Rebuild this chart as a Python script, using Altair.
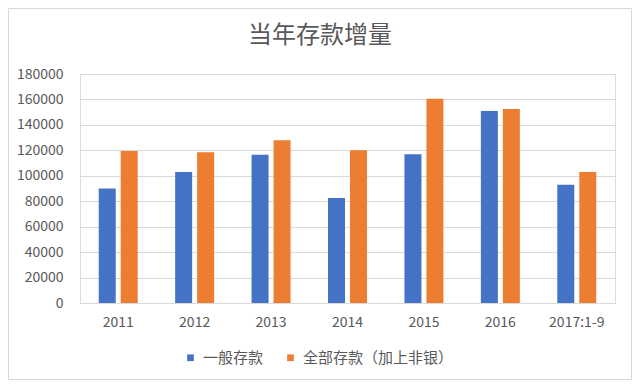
import altair as alt
import pandas as pd

categories = ["2011", "2012", "2013", "2014", "2015", "2016", "2017:1-9"]
series_names = ["一般存款", "全部存款（加上非银）"]
general_deposits = [90000, 103000, 116500, 82500, 117000, 151000, 93000]
all_deposits = [119500, 118500, 128000, 120000, 160500, 152500, 103000]
y_ticks = [0, 20000, 40000, 60000, 80000, 100000, 120000, 140000, 160000, 180000]
colors = ["#4472C4", "#ED7D31"]
chart_title = "当年存款增量"

rows = []
for i, c in enumerate(categories):
    rows.append({"year": c, "series": series_names[0], "value": general_deposits[i]})
    rows.append({"year": c, "series": series_names[1], "value": all_deposits[i]})
df = pd.DataFrame(rows)

FONT = "Noto Sans CJK SC"
GRAY = "#595959"

W, H = 535, 229
PAD_L, PAD_T, PAD_R, PAD_B = 72, 66, 17, 77

bars = alt.Chart(df).mark_bar().encode(
    x=alt.X("year:N", sort=categories, title=None,
            scale=alt.Scale(paddingInner=0.49, paddingOuter=0.245),
            axis=alt.Axis(labelAngle=0, labelFontSize=14, labelColor=GRAY,
                          labelFont=FONT, ticks=False, labelPadding=12,
                          domainColor="#D9D9D9", grid=False)),
    xOffset=alt.XOffset("series:N", sort=series_names,
                        scale=alt.Scale(paddingInner=0.227, paddingOuter=0)),
    y=alt.Y("value:Q", title=None,
            scale=alt.Scale(domain=[0, 180000], nice=False),
            axis=alt.Axis(values=y_ticks, labelFontSize=14, labelColor=GRAY,
                          labelFont=FONT, ticks=False, domain=False,
                          labelPadding=17, gridColor="#D9D9D9", format="d")),
    color=alt.Color("series:N", sort=series_names,
                    scale=alt.Scale(domain=series_names, range=colors),
                    legend=alt.Legend(title=None, orient="none", direction="horizontal",
                                      legendX=103, legendY=276,
                                      symbolType="square", symbolSize=45,
                                      symbolStrokeWidth=0,
                                      labelFontSize=15, labelColor=GRAY, labelFont=FONT,
                                      labelOffset=5, columnPadding=19, labelLimit=300)),
)

one = pd.DataFrame({"t": [chart_title]})

border = alt.Chart(one).mark_rect(
    fill="transparent", stroke="#D9D9D9", strokeWidth=1
).encode(
    x=alt.value(-PAD_L + 0.5), x2=alt.value(W + PAD_R - 0.5),
    y=alt.value(-PAD_T + 0.5), y2=alt.value(H + PAD_B - 0.5),
)

title = alt.Chart(one).mark_text(
    font=FONT, fontSize=24, color=GRAY, align="center", baseline="middle"
).encode(
    text="t:N", x=alt.value(240), y=alt.value(-38),
)

chart = alt.layer(border, title, bars).properties(
    width=W, height=H,
    autosize=alt.AutoSizeParams(type="none"),
    padding={"left": PAD_L, "top": PAD_T, "right": PAD_R, "bottom": PAD_B},
).configure_view(stroke=None).configure(background="white")

chart.save("out.html", embed_options={"renderer": "svg", "actions": False})
